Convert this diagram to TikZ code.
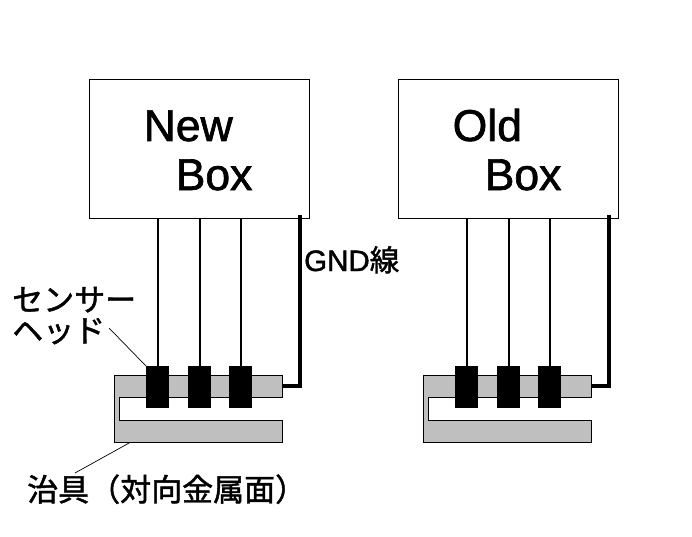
\documentclass[tikz,border=0pt]{standalone}
\usepackage{fontspec}
\setmainfont{Liberation Sans}[FakeBold=1.5]
\newfontfamily\cjk{Noto Sans CJK JP}[FakeBold=1.5]
\tikzset{
  px/.style={x=1pt,y=-1pt},
  boxframe/.style={draw=black,fill=white,line width=1pt},
  jigshape/.style={draw=black,fill=black!25,line width=1pt},
  headblock/.style={draw=none,fill=black,minimum width=23pt,minimum height=42pt,inner sep=0pt},
  thin wire/.style={draw=black,line width=1.7pt},
  gnd wire/.style={draw=black,line width=3.4pt,line join=miter},
  leader/.style={draw=black,line width=0.7pt},
  big/.style={font=\fontsize{44.5}{44}\selectfont,inner sep=0pt,anchor=base west},
  jp/.style={font=\fontsize{31}{30}\selectfont\cjk,inner sep=0pt,anchor=base west},
  gndtext/.style={font=\fontsize{29.5}{30}\selectfont,inner sep=0pt,anchor=base west},
}
\begin{document}
\begin{tikzpicture}[px]
\useasboundingbox (0,0) rectangle (692,537);
% left assembly
\node[boxframe,minimum width=220pt,minimum height=139pt,inner sep=0pt,anchor=north west] (newbox) at (89,79) {};
\draw[jigshape] (282.5,375.5) -- (114.5,375.5) -- (114.5,442.5) -- (282.5,442.5) -- (282.5,420.5) -- (119.5,420.5) -- (119.5,397.5) -- (282.5,397.5) -- cycle;
\coordinate (newjigtab) at (282,386);
\node[headblock,anchor=north west] (na) at (146,366) {};
\node[headblock,anchor=north west] (nb) at (188,366) {};
\node[headblock,anchor=north west] (nc) at (229,366) {};
\draw[thin wire] (na.north |- newbox.south) -- (na.north);
\draw[thin wire] (nb.north |- newbox.south) -- (nb.north);
\draw[thin wire] (nc.north |- newbox.south) -- (nc.north);
\coordinate (newgnd) at (300,215);
\draw[gnd wire] (newgnd) -- (newgnd |- newjigtab) -- (newjigtab);
\node[big] (newlabel) at (143.5,141) {New};
\node[big] (newboxlabel) at (175.5,190) {Box};
% right assembly
\node[boxframe,minimum width=220pt,minimum height=139pt,inner sep=0pt,anchor=north west] (oldbox) at (398,79) {};
\draw[jigshape] (591.5,375.5) -- (423.5,375.5) -- (423.5,442.5) -- (591.5,442.5) -- (591.5,420.5) -- (428.5,420.5) -- (428.5,397.5) -- (591.5,397.5) -- cycle;
\coordinate (oldjigtab) at (591,386);
\node[headblock,anchor=north west] (oa) at (455,366) {};
\node[headblock,anchor=north west] (ob) at (497,366) {};
\node[headblock,anchor=north west] (oc) at (538,366) {};
\draw[thin wire] (oa.north |- oldbox.south) -- (oa.north);
\draw[thin wire] (ob.north |- oldbox.south) -- (ob.north);
\draw[thin wire] (oc.north |- oldbox.south) -- (oc.north);
\coordinate (oldgnd) at (609,215);
\draw[gnd wire] (oldgnd) -- (oldgnd |- oldjigtab) -- (oldjigtab);
\node[big] (oldlabel) at (452.5,141) {Old};
\node[big] (oldboxlabel) at (484.5,190) {Box};
% labels
\node[gndtext] (gnd) at (304,271) {GND{\cjk 線}};
\node[jp] (sensor) at (12,311) {センサー};
\node[jp] (head) at (12,342) {ヘッド};
\node[jp] (jig) at (27,501) {治具（対向金属面）};
\coordinate (sl) at (109,328);
\coordinate (jl) at (75,473);
\draw[leader] (sl) -- (na.north west);
\draw[leader] (jl) -- (130,442.5);
\end{tikzpicture}
\end{document}
